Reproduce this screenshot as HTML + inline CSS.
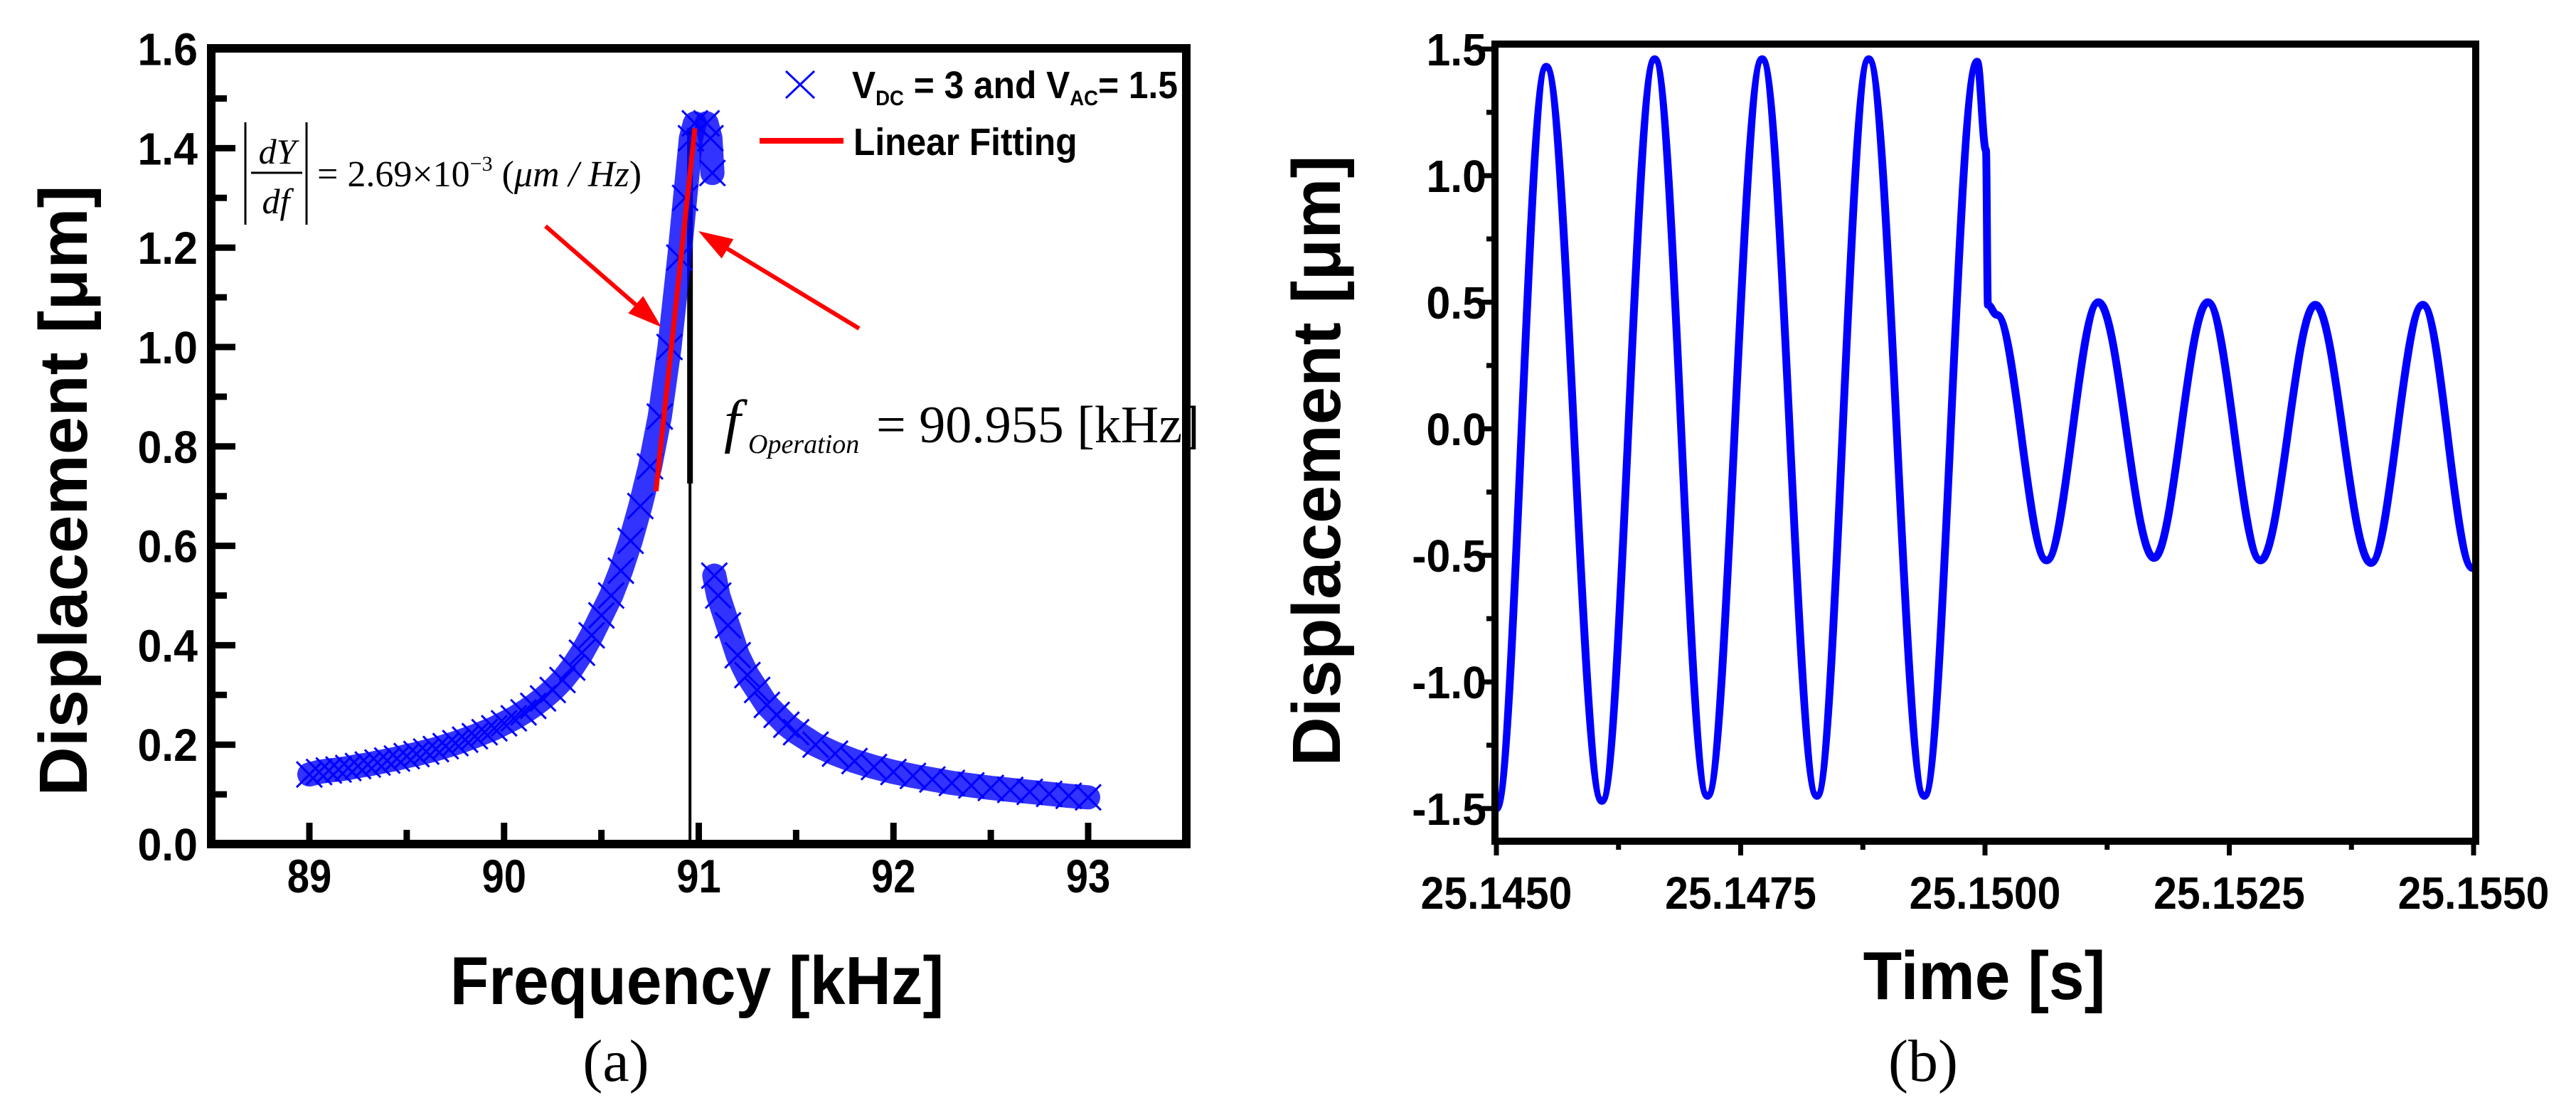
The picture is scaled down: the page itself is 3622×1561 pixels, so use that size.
<!DOCTYPE html>
<html><head><meta charset="utf-8"><style>
html,body{margin:0;padding:0;background:#fff;}
svg{display:block;}
.tk{font-family:"Liberation Sans",Arial,sans-serif;font-weight:bold;fill:#000;}
.sr{font-family:"Liberation Serif","Times New Roman",serif;fill:#000;}
</style></head><body>
<svg id="fig" width="3622" height="1561" viewBox="0 0 3622 1561" xmlns="http://www.w3.org/2000/svg">
<rect width="3622" height="1561" fill="#fff"/>
<g id="pa"></g>
<g id="pb"></g>
</svg>
<script>
// ---------- Panel (a) data ----------
const freqLeft = [89.0,89.05,89.1,89.15,89.2,89.25,89.3,89.35,89.4,89.45,89.5,89.55,89.6,89.65,89.7,89.75,89.8,89.85,89.9,89.95,90.0,90.05,90.1,90.15,90.2,90.25,90.3,90.35,90.4,90.45,90.5,90.55,90.6,90.65,90.7,90.75,90.8,90.85,90.9,90.93,90.96,90.98];
const dispLeft = [0.14,0.145,0.148,0.15,0.153,0.157,0.16,0.164,0.168,0.172,0.177,0.181,0.186,0.191,0.197,0.203,0.21,0.217,0.225,0.233,0.243,0.253,0.265,0.278,0.293,0.31,0.33,0.355,0.385,0.42,0.46,0.5,0.55,0.61,0.68,0.76,0.86,1.0,1.18,1.3,1.42,1.45];
const freqPeak = [91.04,91.06,91.07];
const dispPeak = [1.45,1.42,1.35];
const freqRight = [91.08,91.1,91.15,91.2,91.25,91.3,91.35,91.4,91.45,91.5,91.6,91.7,91.8,91.9,92.0,92.1,92.2,92.3,92.4,92.5,92.6,92.7,92.8,92.9,93.0];
const dispRight = [0.54,0.5,0.44,0.38,0.34,0.31,0.28,0.26,0.24,0.225,0.2,0.182,0.167,0.155,0.145,0.137,0.13,0.123,0.118,0.113,0.109,0.105,0.101,0.097,0.094];
const fitFreq = [90.78,90.98];
const fitDisp = [0.71,1.44];
const opFreq = 90.955;
const xTicksA = [89,90,91,92,93];
const yTicksA = [0.0,0.2,0.4,0.6,0.8,1.0,1.2,1.4,1.6];

// ---------- Panel (b) data ----------
const timeB = [25.14500,25.14551,25.14608,25.14662,25.14716,25.14772,25.14828,25.14881,25.14938,25.14992,25.15001,25.15003,25.15012,25.15063,25.15116,25.15173,25.15228,25.15282,25.15338,25.15395,25.15448,25.15499];
const dispB = [-1.5,1.43,-1.47,1.46,-1.45,1.46,-1.45,1.46,-1.45,1.45,1.1,0.49,0.45,-0.52,0.5,-0.51,0.5,-0.52,0.49,-0.53,0.49,-0.55];
const xTicksB = ["25.1450","25.1475","25.1500","25.1525","25.1550"];
const yTicksB = ["-1.5","-1.0","-0.5","0.0","0.5","1.0","1.5"];

const NS="http://www.w3.org/2000/svg";
function mk(parent,tag,attrs,txt){const e=document.createElementNS(NS,tag);for(const k in attrs)e.setAttribute(k,attrs[k]);if(txt!==undefined)e.textContent=txt;parent.appendChild(e);return e;}

// ===== Panel A =====
const pa=document.getElementById('pa');
const AX={l:297,r:1668,t:68,b:1187};
const xa=f=>435+(f-89)*273.75;
const ya=v=>1187-v*699;

let vl=mk(pa,'line',{x1:xa(opFreq),y1:180,x2:xa(opFreq),y2:680,stroke:'#000','stroke-width':8});


let vl2=mk(pa,'line',{x1:xa(opFreq),y1:680,x2:xa(opFreq),y2:AX.b,stroke:'#000','stroke-width':4});



function band(fs,ds,name){
  const p=fs.map((f,i)=>xa(f).toFixed(1)+','+ya(ds[i]).toFixed(1)).join(' ');
  const pl=mk(pa,'polyline',{points:p,fill:'none',stroke:'#0000ff','stroke-width':34,'stroke-linejoin':'round','stroke-linecap':'round','stroke-opacity':0.8});
  
  
  fs.forEach((f,i)=>{
    const x=xa(f),y=ya(ds[i]),s=18;
    const m=mk(pa,'path',{d:`M${x-s},${y-s}L${x+s},${y+s}M${x-s},${y+s}L${x+s},${y-s}`,stroke:'#0000ff','stroke-width':3,fill:'none'});
    
    
  });
}
band(freqLeft,dispLeft,'below-resonance-data');
band(freqRight,dispRight,'above-resonance-data');
band(freqPeak,dispPeak,'peak-data');

let fl=mk(pa,'line',{x1:xa(fitFreq[0]),y1:ya(fitDisp[0]),x2:xa(fitFreq[1]),y2:ya(fitDisp[1]),stroke:'#ff0000','stroke-width':7});



function arrow(x1,y1,x2,y2,name){
  const g=mk(pa,'g',{});
  
  
  const a=Math.atan2(y2-y1,x2-x1),L=48,W=16;
  const bx=x2-L*Math.cos(a),by=y2-L*Math.sin(a);
  mk(g,'line',{x1:x1,y1:y1,x2:bx,y2:by,stroke:'#ff0000','stroke-width':6});
  mk(g,'polygon',{points:`${x2},${y2} ${bx+W*Math.sin(a)},${by-W*Math.cos(a)} ${bx-W*Math.sin(a)},${by+W*Math.cos(a)}`,fill:'#ff0000'});
}
arrow(767,318,930,460,'slope-arrow');
arrow(1208,462,982,325,'operation-arrow');

let fr=mk(pa,'rect',{x:AX.l,y:AX.t,width:AX.r-AX.l,height:AX.b-AX.t,fill:'none',stroke:'#000','stroke-width':12});



for(let v=0;v<=1.6001;v+=0.1){
  const maj=Math.round(v*10)%2===0;
  mk(pa,'line',{x1:AX.l,y1:ya(v),x2:AX.l+(maj?34:22),y2:ya(v),stroke:'#000','stroke-width':9});
}
yTicksA.forEach(v=>{
  const t=mk(pa,'text',{class:'tk',x:278,y:ya(v)+23,'text-anchor':'end','font-size':64,transform:`translate(278 0) scale(0.95 1) translate(-278 0)`},v.toFixed(1));
  
  
});
for(let f=88.5;f<=93.51;f+=0.5){
  const maj=Math.abs(f-Math.round(f))<0.01;
  mk(pa,'line',{x1:xa(f),y1:AX.b,x2:xa(f),y2:AX.b-(maj?30:20),stroke:'#000','stroke-width':9});
}
xTicksA.forEach(f=>{
  const x=xa(f);
  const t=mk(pa,'text',{class:'tk',x:x,y:1255,'text-anchor':'middle','font-size':66,transform:`translate(${x} 0) scale(0.85 1) translate(${-x} 0)`},String(f));
  
  
});
</script>
<script>
(function(){
const pa=document.getElementById('pa');
pa.insertAdjacentHTML('beforeend',`
<text class="tk" x="980" y="1412" text-anchor="middle" font-size="96" transform="translate(980 0) scale(0.93 1) translate(-980 0)">Frequency [kHz]</text>
<text class="tk" x="0" y="0" text-anchor="middle" font-size="96" transform="translate(122 690) rotate(-90)">Displacement [μm]</text>
<text class="sr" x="866" y="1520" text-anchor="middle" font-size="84">(a)</text>
<g>
<path d="M1105,100 L1145,138 M1105,138 L1145,100" stroke="#0000ff" stroke-width="3" fill="none"/>
<text class="tk" x="1198" y="138" font-size="54" transform="translate(1198 0) scale(0.92 1) translate(-1198 0)">V<tspan font-size="30" dy="10">DC</tspan><tspan dy="-10"> = 3 and V</tspan><tspan font-size="30" dy="10">AC</tspan><tspan dy="-10">= 1.5</tspan></text>
<line x1="1068" y1="198" x2="1186" y2="198" stroke="#ff0000" stroke-width="8"/>
<text class="tk" x="1200" y="218" font-size="54" transform="translate(1200 0) scale(0.92 1) translate(-1200 0)">Linear Fitting</text>
</g>
<g>
<line x1="345" y1="172" x2="345" y2="316" stroke="#000" stroke-width="3"/>
<line x1="431" y1="172" x2="431" y2="316" stroke="#000" stroke-width="3"/>
<line x1="353" y1="243" x2="425" y2="243" stroke="#000" stroke-width="3"/>
<text class="sr" x="390" y="230" text-anchor="middle" font-size="50" font-style="italic">dY</text>
<text class="sr" x="388" y="300" text-anchor="middle" font-size="50" font-style="italic">df</text>
<text class="sr" x="446" y="262" font-size="52">= 2.69×10<tspan font-size="30" dy="-22">−3</tspan><tspan dy="22"> (</tspan><tspan font-style="italic">μm / Hz</tspan>)</text>
</g>
<g>
<text class="sr" x="1018" y="620" font-size="84" font-style="italic">f</text>
<text class="sr" x="1052" y="637" font-size="38" font-style="italic">Operation</text>
<text class="sr" x="1232" y="622" font-size="74">= 90.955 [kHz]</text>
</g>`);
})();
</script>
<script>
(function(){
const pb=document.getElementById('pb');
const BX={l:2102,r:3481,t:62,b:1183};
const xb=t=>2104+(t-25.145)/0.01*1374;
const yb=v=>603-v*356;
let d='M'+xb(timeB[0]).toFixed(1)+','+yb(dispB[0]).toFixed(1);
for(let i=1;i<timeB.length;i++){
  const x0=xb(timeB[i-1]),y0=yb(dispB[i-1]),x1=xb(timeB[i]),y1=yb(dispB[i]);
  const dx=(x1-x0)*0.36;
  d+=`C${(x0+dx).toFixed(1)},${y0.toFixed(1)} ${(x1-dx).toFixed(1)},${y1.toFixed(1)} ${x1.toFixed(1)},${y1.toFixed(1)}`;
}
const c=mk(pb,'path',{d:d,fill:'none',stroke:'#0000ff','stroke-width':11,'stroke-linejoin':'round'});


const fr=mk(pb,'rect',{x:BX.l,y:BX.t,width:BX.r-BX.l,height:BX.b-BX.t,fill:'none',stroke:'#000','stroke-width':10});


for(let k=-6;k<=6;k++){
  const v=k*0.25,maj=k%2===0;
  mk(pb,'line',{x1:BX.l,y1:yb(v),x2:BX.l-(maj?18:12),y2:yb(v),stroke:'#000','stroke-width':7});
}
yTicksB.forEach(s=>{
  const y=yb(parseFloat(s));
  const t=mk(pb,'text',{class:'tk',x:2090,y:y+23,'text-anchor':'end','font-size':64,transform:'translate(2090 0) scale(0.95 1) translate(-2090 0)'},s);
  
  
});
for(let k=0;k<=8;k++){
  const x=xb(25.145+k*0.00125),maj=k%2===0;
  mk(pb,'line',{x1:x,y1:BX.b,x2:x,y2:BX.b+(maj?20:12),stroke:'#000','stroke-width':7});
}
xTicksB.forEach(s=>{
  const x=xb(parseFloat(s));
  const t=mk(pb,'text',{class:'tk',x:x,y:1278,'text-anchor':'middle','font-size':64,transform:`translate(${x} 0) scale(0.92 1) translate(${-x} 0)`},s);
  
  
});
pb.insertAdjacentHTML('beforeend',`
<text class="tk" x="2790" y="1405" text-anchor="middle" font-size="96" transform="translate(2790 0) scale(0.93 1) translate(-2790 0)">Time [s]</text>
<text class="tk" x="0" y="0" text-anchor="middle" font-size="96" transform="translate(1884 648) rotate(-90)">Displacement [μm]</text>
<text class="sr" x="2704" y="1520" text-anchor="middle" font-size="84">(b)</text>`);
})();
</script>
</body></html>
